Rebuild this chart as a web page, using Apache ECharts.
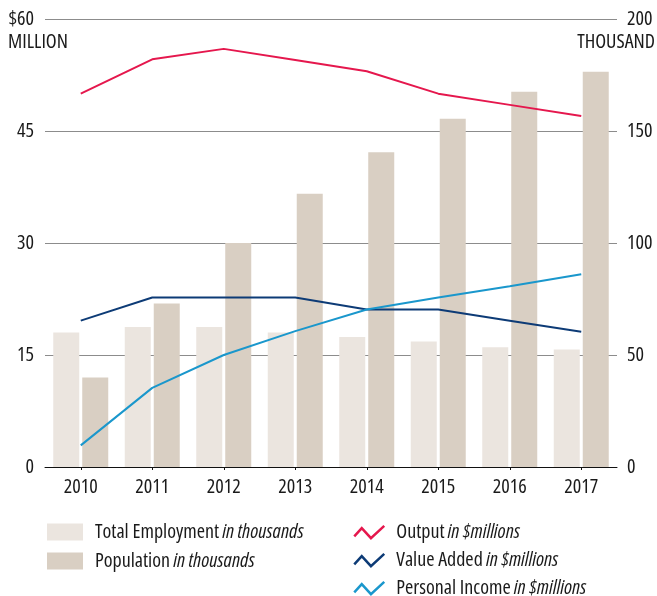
<!DOCTYPE html>
<html>
<head>
<meta charset="utf-8">
<script src="https://cdn.jsdelivr.net/npm/echarts@6/dist/echarts.min.js"></script>
<style>
html,body{margin:0;padding:0;background:#fff;}
#chart{width:657px;height:596px;}
</style>
</head>
<body>
<div id="chart"></div>
<script>
const years = ['2010','2011','2012','2013','2014','2015','2016','2017'];
const employment = [60, 62.5, 62.5, 60, 58, 56, 53.5, 52.5];
const population = [40, 73, 100, 122, 140.5, 155.5, 167.5, 176.5];
const output = [50, 54.6, 56, 54.5, 53, 50, 48.5, 47];
const valueAdded = [19.6, 22.7, 22.7, 22.7, 21.1, 21.1, 19.6, 18.1];
const personalIncome = [2.9, 10.6, 15, 18.2, 21.1, 22.7, 24.2, 25.8];
const leftTicks = [0, 15, 30, 45, 60];
const rightTicks = [0, 50, 100, 150, 200];

const FONT = '"Open Sans","Roboto Condensed",sans-serif';
const STRETCH = 'condensed';
const TXT = '#1a1a1a';
const C_EMP = '#ebe5df', C_POP = '#d9cfc3';
const C_OUT = '#e5174d', C_VA = '#0d3b76', C_PI = '#1a97cc';
const zig = 'path://M0,10.5 L7.5,2.3 L16.7,12.3 L30,0';

const chart = echarts.init(document.getElementById('chart'), null, {renderer: 'canvas'});
const richText = {
  a: {fontFamily: FONT, fontWeight: STRETCH, fontSize: 20, color: TXT, lineHeight: 19, padding: [0, 0, 0, 7]},
  b: {fontFamily: FONT, fontWeight: STRETCH, fontStyle: 'italic', fontSize: 20, color: TXT, lineHeight: 19}
};
function lineLegendItem(name, color) {
  return {name: name, icon: zig, itemStyle: {color: 'transparent', borderColor: color, borderWidth: 2.5}};
}
const labelStyle = {fontFamily: FONT, fontWeight: STRETCH, fontSize: 20, color: TXT};
const option = {
  animation: false,
  textStyle: {fontFamily: FONT},
  grid: {left: 45, right: 40, top: 19, bottom: 129},
  legend: [
    {
      orient: 'vertical', left: 47, top: 522, height: 120, padding: 0, itemWidth: 36, itemHeight: 17, itemGap: 9,
      icon: 'rect',
      data: ['Total Employment', 'Population'],
      selectedMode: false,
      textStyle: {rich: richText},
      formatter: function (n) { return '{a|' + n + '} {b|in thousands}'; }
    },
    {
      orient: 'vertical', left: 353, top: 522, height: 120, padding: 0, itemWidth: 30, itemHeight: 13, itemGap: 8,
      data: [lineLegendItem('Output', C_OUT), lineLegendItem('Value Added', C_VA), lineLegendItem('Personal Income', C_PI)],
      selectedMode: false,
      textStyle: {rich: richText},
      formatter: function (n) { return '{a|' + n + '} {b|in $millions}'; }
    }
  ],
  graphic: [
    {type: 'text', left: 8, top: 32, style: {text: 'MILLION', font: 'normal condensed 20px ' + FONT, fill: TXT}},
    {type: 'text', right: 2, top: 32, style: {text: 'THOUSAND', font: 'normal condensed 20px ' + FONT, fill: TXT}}
  ],
  xAxis: {
    type: 'category', data: years, boundaryGap: true,
    axisLine: {lineStyle: {color: '#111', width: 1}},
    axisTick: {show: true, alignWithLabel: true, length: 3, lineStyle: {color: '#111'}},
    axisLabel: Object.assign({margin: 10}, labelStyle)
  },
  yAxis: [
    {
      type: 'value', min: leftTicks[0], max: leftTicks[leftTicks.length - 1], interval: 15,
      axisLine: {show: false}, axisTick: {show: false},
      splitLine: {lineStyle: {color: '#8c8c8c', width: 1}},
      axisLabel: Object.assign({margin: 11,
        formatter: function (v) { return v === 60 ? '$60' : String(v); }}, labelStyle)
    },
    {
      type: 'value', min: rightTicks[0], max: rightTicks[rightTicks.length - 1], interval: 50,
      axisLine: {show: false}, axisTick: {show: false}, splitLine: {show: false},
      axisLabel: Object.assign({margin: 10}, labelStyle)
    }
  ],
  series: [
    {name: 'Total Employment', type: 'bar', yAxisIndex: 1, data: employment, barWidth: 26, barGap: '11.5%',
     itemStyle: {color: C_EMP}, z: 1},
    {name: 'Population', type: 'bar', yAxisIndex: 1, data: population, barWidth: 26,
     itemStyle: {color: C_POP}, z: 1},
    {name: 'Output', type: 'line', yAxisIndex: 0, data: output, symbol: 'none',
     lineStyle: {color: C_OUT, width: 2}, itemStyle: {color: C_OUT}, z: 3},
    {name: 'Value Added', type: 'line', yAxisIndex: 0, data: valueAdded, symbol: 'none',
     lineStyle: {color: C_VA, width: 2}, itemStyle: {color: C_VA}, z: 3},
    {name: 'Personal Income', type: 'line', yAxisIndex: 0, data: personalIncome, symbol: 'none',
     lineStyle: {color: C_PI, width: 2}, itemStyle: {color: C_PI}, z: 3}
  ]
};
chart.setOption(option);
</script>
</body>
</html>
